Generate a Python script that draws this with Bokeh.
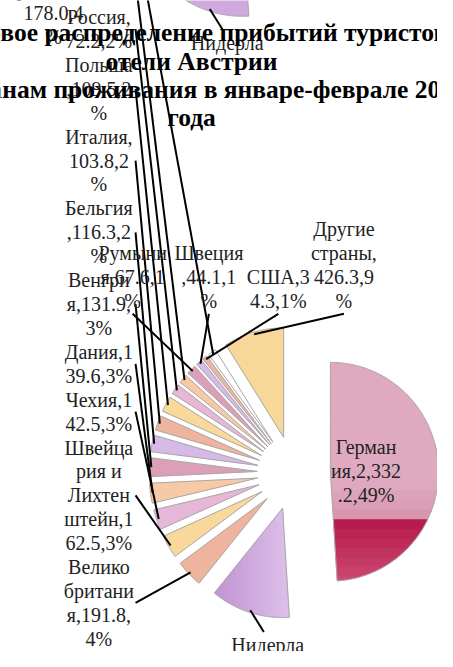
import numpy as np
from bokeh.plotting import figure
from bokeh.models import Range1d
from bokeh.embed import file_html
from bokeh.resources import INLINE
from bokeh.core.properties import value

# ---------------- data ----------------
countries = ["Германия", "Нидерланды", "Великобритания", "Швейцария и Лихтенштейн",
             "Чехия", "Дания", "Венгрия", "Бельгия", "Италия", "Польша", "Россия",
             "", "Румыния", "Швеция", "США", "", "Другие страны"]
arrivals = [2332.2, 565.0, 191.8, 162.5, 142.5, 139.6, 131.9, 116.3, 103.8, 109.5, 72.2,
            62.0, 67.6, 44.1, 34.3, 58.0, 426.3]
# data labels exactly as they are wrapped in the chart
label_text = [
    "Герман\nия,2,332\n.2,49%",
    "Нидерла\nнды,565.0\n,12%",
    "Велико\nбритани\nя,191.8,\n4%",
    "Швейца\nрия и\nЛихтен\nштейн,1\n62.5,3%",
    "Чехия,1\n42.5,3%",
    "Дания,1\n39.6,3%",
    "Венгри\nя,131.9,\n3%",
    "Бельгия\n,116.3,2\n%",
    "Италия,\n103.8,2\n%",
    "Польша\n,109.5,2\n%",
    "Россия,\n72.2,2%",
    "",
    "Румыни\nя,67.6,1\n%",
    "Швеция\n,44.1,1\n%",
    "США,3\n4.3,1%",
    "",
    "Другие\nстраны,\n426.3,9\n%",
]
title_lines = ["Страновое распределение прибытий туристов в",
               "отели Австрии",
               "по странам проживания в январе-феврале 2009",
               "года"]
# remnants of the chart drawn above this one (visible at the top edge)
ghost_text = ["Нидерла", "Великоб\nритания,\n178.0,4\n%"]

# ---------------- style / layout ----------------
slice_colors = ["#DDA6BD", "#CFA8DE", "#EEB49D", "#F8D99B", "#E7B7D7", "#F7C9A4",
                "#DBA0B7", "#D6B9E6", "#EEB49D", "#F8D99B", "#E7B7D7", "#F7C9A4",
                "#DBA0B7", "#D6B9E6", "#EEB49D", "#FFFFFF", "#F8D899"]
W, H = 453, 667
CX, CY, R, EXPL = 304.0, 484.0, 112.0, 38.0
LS = 24.5                   # label line spacing
COL_X, COL_RIGHT, COL_BOTTOM = 102.0, 140.0, 654.0
column_slices = [2, 3, 4, 5, 6, 7, 8, 9, 10, 11, 15]
top_slices = [12, 13, 14, 16]
top_x = [137.0, 216.0, 288.0, 356.0]
TOP_LAST = 308.0
NL_LABEL = (277.0, 660.0)
GHOST_SHIFT = (-42.0, -616.0)
GHOST_UK = (55.0, 37.0)
TITLE_X, TITLE_Y0, TITLE_LS = 198.0, 33.0, 29.0
SERIF = value("'Liberation Serif', 'Times New Roman', serif")
LABEL_FONT = "20px"
TITLE_FONT = "25.5px"

p = figure(width=437, height=651, x_range=Range1d(0, W), y_range=Range1d(H, 0),
           output_backend="svg", toolbar_location=None, min_border=0,
           x_axis_location=None, y_axis_location=None)
p.grid.visible = False
p.outline_line_color = None
p.background_fill_color = "white"
p.border_fill_color = "white"

total = float(sum(arrivals))
edges = np.concatenate([[0.0], np.cumsum(arrivals)]) / total * 360.0


def direction(deg):
    t = np.radians(deg)
    return np.sin(t), -np.cos(t)


def wedge(i, dx=0.0, dy=0.0):
    a0, a1 = edges[i], edges[i + 1]
    mid = (a0 + a1) / 2
    ux, uy = direction(mid)
    ax, ay = CX + EXPL * ux + dx, CY + EXPL * uy + dy
    th = np.radians(np.linspace(a0, a1, max(6, int((a1 - a0) * 2))))
    xs = [ax] + list(ax + R * np.sin(th))
    ys = [ay] + list(ay - R * np.cos(th))
    return xs, ys, ax, ay, mid


def clip(xs, ys, axis, v, keep_ge):
    pts = list(zip(xs, ys))
    out = []
    n = len(pts)
    for k in range(n):
        p1, p2 = pts[k], pts[(k + 1) % n]
        i1 = p1[axis] >= v if keep_ge else p1[axis] <= v
        i2 = p2[axis] >= v if keep_ge else p2[axis] <= v
        if i1:
            out.append(p1)
        if i1 != i2:
            t = (v - p1[axis]) / (p2[axis] - p1[axis])
            out.append((p1[0] + t * (p2[0] - p1[0]), p1[1] + t * (p2[1] - p1[1])))
    return [q[0] for q in out], [q[1] for q in out]


def band(xs, ys, axis, lo, hi):
    bx, by = clip(xs, ys, axis, lo, True)
    if len(bx) < 3:
        return bx, by
    return clip(bx, by, axis, hi, False)


def hexmix(c1, c2, t):
    a = [int(c1[k:k + 2], 16) for k in (1, 3, 5)]
    b = [int(c2[k:k + 2], 16) for k in (1, 3, 5)]
    return "#%02x%02x%02x" % tuple(int(round(a[j] + (b[j] - a[j]) * t)) for j in range(3))


fill_xs, fill_ys, fill_c = [], [], []
out_xs, out_ys = [], []
geo = []
for i in range(len(arrivals)):
    xs, ys, ax, ay, mid = wedge(i)
    geo.append((ax, ay, mid))
    out_xs.append(xs)
    out_ys.append(ys)
    if i == 0:   # Germany: pink with crimson lower part (smooth bands)
        nb = 24
        for k in range(nb):
            lo = -1.05 + k * (2.1 / nb)
            hi = lo + 2.1 / nb + 0.01
            f = (lo + hi) / 2
            if f < 0.46:
                c = hexmix("#DFAAC0", "#D48FAA", max(0.0, (f - 0.0) / 0.46) ** 2)
            else:
                c = hexmix("#B51A4D", "#CE4A73", (f - 0.46) / 0.56)
            bx, by = band(xs, ys, 1, ay + lo * R, ay + hi * R)
            if len(bx) >= 3:
                fill_xs.append(bx); fill_ys.append(by); fill_c.append(c)
    elif i == 1:  # Netherlands: lilac, darker on the left
        nb = 16
        for k in range(nb):
            lo = -0.80 + k * (0.85 / nb)
            hi = lo + 0.85 / nb + 0.01
            if k == 0:
                lo = -2.0
            if k == nb - 1:
                hi = 2.0
            c = hexmix("#BB8ACD", "#DCBDE8", k / (nb - 1))
            bx, by = band(xs, ys, 0, ax + lo * R, ax + hi * R)
            if len(bx) >= 3:
                fill_xs.append(bx); fill_ys.append(by); fill_c.append(c)
    else:
        fill_xs.append(xs); fill_ys.append(ys); fill_c.append(slice_colors[i])

# ghost remnant of the previous chart's Netherlands slice
gxs, gys, gax, gay, gmid = wedge(1, *GHOST_SHIFT)
p.patches(xs=[gxs], ys=[gys], fill_color="#CFA8DE", line_color="#A8A8A8", line_width=1)

p.patches(xs=fill_xs, ys=fill_ys, fill_color=fill_c, line_color=fill_c, line_width=0.5)
p.patches(xs=out_xs, ys=out_ys, fill_color=None, line_color="#A8A8A8", line_width=1)

# ---------------- labels ----------------
tx, ty, tt = [], [], []
lx0, ly0, lx1, ly1 = [], [], [], []


def put_lines(x, ys_, lines):
    for yy, s in zip(ys_, lines):
        tx.append(x); ty.append(yy); tt.append(s)


def outer_point(i, f=0.98):
    ax, ay, mid = geo[i]
    ux, uy = direction(mid)
    return ax + R * f * ux, ay + R * f * uy


# left column, stacked from the bottom up
cur = COL_BOTTOM
for i in column_slices:
    lines = label_text[i].split("\n") if label_text[i] else ["", ""]
    n = len(lines)
    ys_ = [cur - (n - 1 - k) * LS for k in range(n)]
    put_lines(COL_X, ys_, lines)
    ex, ey = outer_point(i)
    lx0.append(COL_RIGHT); ly0.append((ys_[0] + ys_[-1]) / 2)
    lx1.append(ex); ly1.append(ey)
    cur = ys_[0] - LS

# row above the pie
for i, x in zip(top_slices, top_x):
    lines = label_text[i].split("\n")
    n = len(lines)
    ys_ = [TOP_LAST - (n - 1 - k) * LS for k in range(n)]
    put_lines(x, ys_, lines)
    ex, ey = outer_point(i)
    lx0.append(x); ly0.append(TOP_LAST + 13)
    lx1.append(ex); ly1.append(ey)

# Germany inside its slice
gax0, gay0, gm0 = geo[0]
ux, uy = direction(gm0)
lines = label_text[0].split("\n")
cx_, cy_ = gax0 + 0.33 * R * ux, gay0 + 0.33 * R * uy
put_lines(cx_, [cy_ + (k - (len(lines) - 1) / 2) * LS for k in range(len(lines))], lines)

# Netherlands below
lines = label_text[1].split("\n")
put_lines(NL_LABEL[0], [NL_LABEL[1] + k * LS for k in range(len(lines))], lines)
ex, ey = outer_point(1)
lx0.append(ex); ly0.append(ey)
lx1.append(NL_LABEL[0] - 4); ly1.append(NL_LABEL[1] - 13)

# ghost labels of the chart above
gx, gy = NL_LABEL[0] + GHOST_SHIFT[0], NL_LABEL[1] + GHOST_SHIFT[1]
put_lines(gx, [gy], [ghost_text[0]])
lx0.append(ex + GHOST_SHIFT[0]); ly0.append(ey + GHOST_SHIFT[1])
lx1.append(gx - 4); ly1.append(gy - 13)
lines = ghost_text[1].split("\n")
put_lines(GHOST_UK[0], [GHOST_UK[1] - (len(lines) - 1 - k) * LS for k in range(len(lines))], lines)

p.segment(x0=lx0, y0=ly0, x1=lx1, y1=ly1, line_color="black", line_width=2)

p.text(x=tx, y=ty, text=tt, text_font=SERIF, text_font_size=LABEL_FONT,
       text_align="center", text_baseline="middle", text_color="#222222")

# ---------------- title ----------------
p.text(x=[TITLE_X] * len(title_lines),
       y=[TITLE_Y0 + k * TITLE_LS for k in range(len(title_lines))],
       text=title_lines, text_font=SERIF, text_font_size=TITLE_FONT,
       text_font_style="bold", text_align="center", text_baseline="middle", text_color="black")

open("out.html", "w").write(file_html(p, INLINE))
